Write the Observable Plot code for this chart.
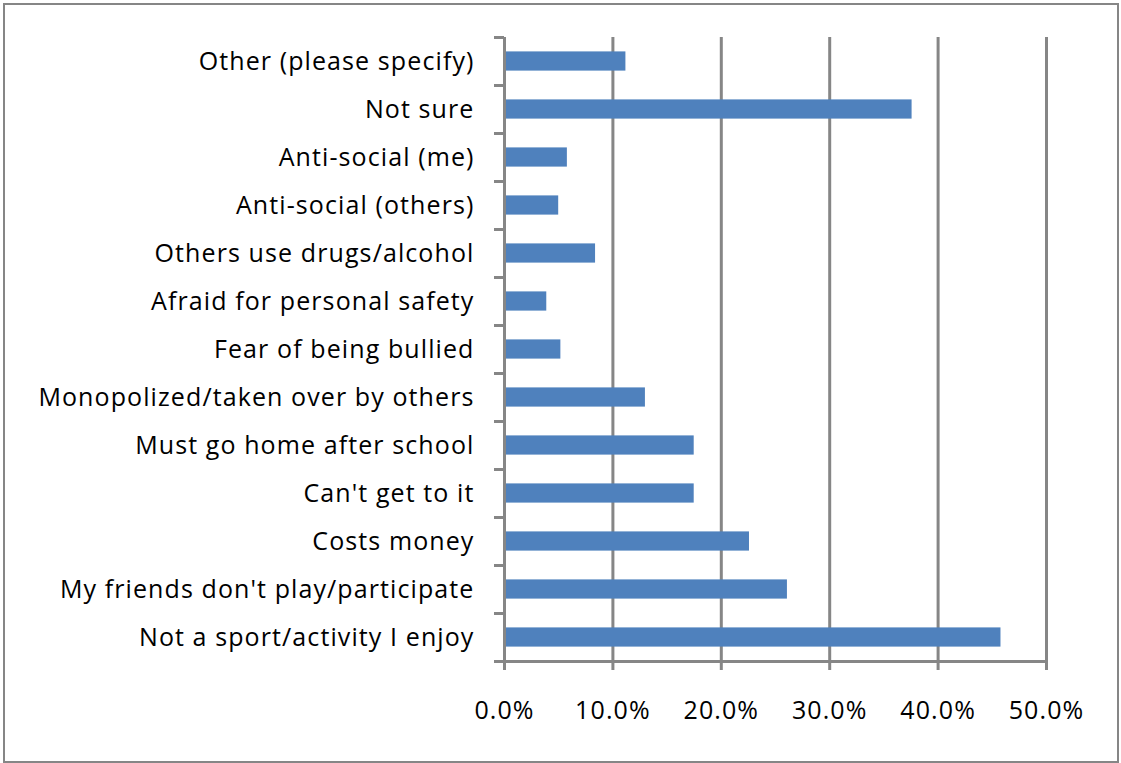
<!DOCTYPE html>
<html>
<head>
<meta charset="utf-8">
<script src="https://cdn.jsdelivr.net/npm/d3@7"></script>
<script src="https://cdn.jsdelivr.net/npm/@observablehq/plot@0.6"></script>
<style>
  html, body { margin: 0; padding: 0; background: #fff; }
  #wrap { position: relative; width: 1121px; height: 763px; overflow: hidden; }
  #border { position: absolute; left: 3px; top: 3px; width: 1116px; height: 760px; box-sizing: border-box; border: 2px solid #868686; pointer-events: none; }
</style>
</head>
<body>
<div id="wrap"><div id="border"></div></div>
<script>
const categories = [
  "Other (please specify)",
  "Not sure",
  "Anti-social (me)",
  "Anti-social (others)",
  "Others use drugs/alcohol",
  "Afraid for personal safety",
  "Fear of being bullied",
  "Monopolized/taken over by others",
  "Must go home after school",
  "Can't get to it",
  "Costs money",
  "My friends don't play/participate",
  "Not a sport/activity I enjoy"
];
const values = [0.112, 0.376, 0.058, 0.050, 0.084, 0.039, 0.052, 0.130, 0.175, 0.175, 0.226, 0.261, 0.458];
const xTicks = [0, 0.1, 0.2, 0.3, 0.4, 0.5];

const data = categories.map((c, i) => ({category: c, value: values[i]}));

const W = 1121, H = 763, mt = 37, mb = 102, ml = 504, mr = 75;
const step = (H - mt - mb) / categories.length;
const gray = "#868686";
const font = "'Open Sans', sans-serif";

const chart = Plot.plot({
  width: W,
  height: H,
  marginTop: mt,
  marginBottom: mb,
  marginLeft: ml,
  marginRight: mr,
  style: {fontFamily: font, fontSize: "25px", letterSpacing: "1.1px", color: "#000", background: "transparent"},
  x: {domain: [0, 0.5], ticks: xTicks},
  y: {domain: categories, paddingInner: 0.6, paddingOuter: 0.3, round: false},
  marks: [
    Plot.gridX(xTicks, {stroke: gray, strokeOpacity: 1, strokeWidth: 3}),
    Plot.barX(data, {x: "value", y: "category", fill: "#4F81BD"}),
    Plot.ruleX([0], {stroke: gray, strokeWidth: 3}),
    Plot.ruleY([categories[categories.length - 1]], {dy: step / 2, x1: 0, x2: 0.5, stroke: gray, strokeWidth: 3}),
    Plot.axisX({ticks: xTicks, tickFormat: d3.format(".1%"), tickSize: 9, tickPadding: 31, stroke: gray, strokeWidth: 3, fill: "#000", fontSize: 25, label: null}),
    Plot.axisY({ticks: categories, tickSize: 10, text: null, dy: -step / 2, stroke: gray, strokeWidth: 3, label: null}),
    Plot.axisY({ticks: [categories[categories.length - 1]], tickSize: 10, text: null, dy: step / 2, stroke: gray, strokeWidth: 3, label: null}),
    Plot.axisY({ticks: categories, tickSize: 0, tickPadding: 30, fill: "#000", fontSize: 25, label: null})
  ]
});
document.getElementById("wrap").prepend(chart);
</script>
</body>
</html>
